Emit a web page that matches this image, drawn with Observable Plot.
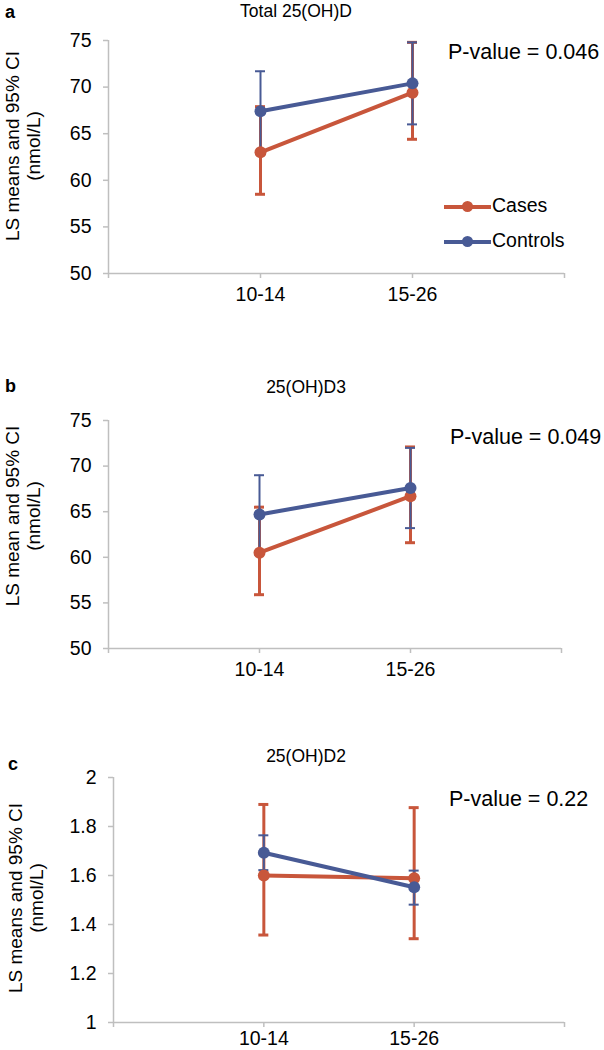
<!DOCTYPE html>
<html><head><meta charset="utf-8">
<script src="https://cdn.jsdelivr.net/npm/d3@7"></script>
<script src="https://cdn.jsdelivr.net/npm/@observablehq/plot@0.6"></script>
<style>
body{margin:0;background:#fff;font-family:"Liberation Sans",Arial,sans-serif;}
#root{position:relative;width:604px;height:1050px;overflow:hidden;background:#fff;}
.abs{position:absolute;white-space:nowrap;color:#000;}
</style></head><body><div id="root"></div>
<script>
// ---- data ----
const categories = ["10-14", "15-26"];
const axisLabels = ["", "10-14", "15-26", ""];
const series = ["Cases", "Controls"];
const colors = ["#C8563B", "#485A95"];

const panelLetters = ["a", "b", "c"];
const panelTitles = ["Total 25(OH)D", "25(OH)D3", "25(OH)D2"];
const yLabels = [["LS means and 95% CI", "(nmol/L)"], ["LS mean and 95% CI", "(nmol/L)"], ["LS means and 95% CI", "(nmol/L)"]];
const pValues = ["P-value = 0.046", "P-value = 0.049", "P-value = 0.22"];

const yTicksA = [50, 55, 60, 65, 70, 75];
const yTicksB = [50, 55, 60, 65, 70, 75];
const yTicksC = [1, 1.2, 1.4, 1.6, 1.8, 2];

// panel a: Total 25(OH)D
const aCasesMean = [63.0, 69.4];
const aCasesLow = [58.5, 64.4];
const aCasesHigh = [67.9, 74.8];
const aControlsMean = [67.4, 70.4];
const aControlsLow = [63.1, 66.0];
const aControlsHigh = [71.7, 74.8];

// panel b: 25(OH)D3
const bCasesMean = [60.5, 66.7];
const bCasesLow = [55.9, 61.6];
const bCasesHigh = [65.5, 72.1];
const bControlsMean = [64.7, 67.6];
const bControlsLow = [60.3, 63.2];
const bControlsHigh = [69.0, 72.0];

// panel c: 25(OH)D2
const cCasesMean = [1.60, 1.589];
const cCasesLow = [1.357, 1.342];
const cCasesHigh = [1.89, 1.877];
const cControlsMean = [1.693, 1.552];
const cControlsLow = [1.622, 1.481];
const cControlsHigh = [1.764, 1.62];

// ---- layout ----
const root = document.getElementById("root");
const FONT = "'Liberation Sans', Arial, sans-serif";
const AXIS = "#BFBFBF";

function addText(txt, x, baseline, size, opts = {}) {
  const d = document.createElement("div");
  d.className = "abs";
  d.textContent = txt;
  const L = 0.8 * size;
  d.style.fontSize = size + "px";
  d.style.lineHeight = L + "px";
  d.style.fontWeight = opts.bold ? "bold" : "normal";
  const off = (L - 1.117 * size) / 2 + 0.905 * size;
  d.style.top = (baseline - off) + "px";
  d.style.left = x + "px";
  if (opts.center) d.style.transform = "translateX(-50%)";
  root.appendChild(d);
  return d;
}

function addYLabel(lines, cx, cy) {
  const d = document.createElement("div");
  d.className = "abs";
  d.style.fontSize = "19px";
  d.style.lineHeight = "21px";
  d.style.textAlign = "center";
  d.style.left = cx + "px";
  d.style.top = cy + "px";
  d.style.transform = "translate(-50%,-50%) rotate(-90deg)";
  d.innerHTML = lines.map(l => `<div>${l}</div>`).join("");
  root.appendChild(d);
}

const panels = [
  {top: 0, height: 330, mt: 40, mb: 57, ml: 108, mr: 40, domain: [50, 75], ticks: yTicksA, xpad: 9,
   mean: [aCasesMean, aControlsMean], low: [aCasesLow, aControlsLow], high: [aCasesHigh, aControlsHigh],
   letter: [5, 18], title: [296, 17], p: [448, 60], ylab: [23, 146]},
  {top: 330, height: 370, mt: 90, mb: 52, ml: 108, mr: 43, domain: [50, 75], ticks: yTicksB, xpad: 9,
   mean: [bCasesMean, bControlsMean], low: [bCasesLow, bControlsLow], high: [bCasesHigh, bControlsHigh],
   letter: [5, 392], title: [306, 393], p: [450, 445], ylab: [23, 516]},
  {top: 700, height: 350, mt: 77, mb: 28, ml: 113, mr: 40, domain: [1, 2], ticks: yTicksC, xpad: 4,
   mean: [cCasesMean, cControlsMean], low: [cCasesLow, cControlsLow], high: [cCasesHigh, cControlsHigh],
   letter: [8, 770], title: [306, 762], p: [449, 807], ylab: [26, 898]}
];

panels.forEach((cfg, pi) => {
  const rows = [];
  series.forEach((s, si) => {
    categories.forEach((c, ci) => {
      rows.push({series: s, si, x: ci + 1, mean: cfg.mean[si][ci], low: cfg.low[si][ci], high: cfg.high[si][ci]});
    });
  });
  const unitPx = (604 - cfg.ml - cfg.mr) / 3;
  const cap = 5 / unitPx;
  const marks = [
    Plot.ruleY([cfg.domain[0]], {stroke: AXIS, strokeWidth: 1.5}),
    Plot.ruleX([0], {stroke: AXIS, strokeWidth: 1.5}),
    Plot.axisY({ticks: cfg.ticks, tickFormat: d => String(d), tickSize: 5, tickPadding: 12, label: null,
                stroke: AXIS, strokeWidth: 1.5, fill: "#000", fontSize: 19.5}),
    Plot.axisX({ticks: [0, 1, 2, 3], tickFormat: i => axisLabels[i], tickSize: 5, tickPadding: cfg.xpad, label: null,
                stroke: AXIS, strokeWidth: 1.5, fill: "#000", fontSize: 19.5})
  ];
  series.forEach((s, si) => {
    const d = rows.filter(r => r.si === si);
    const w = si === 0 ? 3 : 2;
    marks.push(Plot.ruleX(d, {x: "x", y1: "low", y2: "high", stroke: colors[si], strokeWidth: w}));
    marks.push(Plot.ruleY(d, {y: "low", x1: r => r.x - cap, x2: r => r.x + cap, stroke: colors[si], strokeWidth: w}));
    marks.push(Plot.ruleY(d, {y: "high", x1: r => r.x - cap, x2: r => r.x + cap, stroke: colors[si], strokeWidth: w}));
  });
  series.forEach((s, si) => {
    const d = rows.filter(r => r.si === si);
    marks.push(Plot.line(d, {x: "x", y: "mean", stroke: colors[si], strokeWidth: 4}));
  });
  series.forEach((s, si) => {
    const d = rows.filter(r => r.si === si);
    marks.push(Plot.dot(d, {x: "x", y: "mean", r: 6, fill: colors[si], stroke: "none"}));
  });
  const svg = Plot.plot({
    width: 604, height: cfg.height,
    marginTop: cfg.mt, marginBottom: cfg.mb, marginLeft: cfg.ml, marginRight: cfg.mr,
    x: {domain: [0, 3]},
    y: {domain: cfg.domain},
    style: {fontFamily: FONT, fontSize: "19.5px", color: "#000", background: "transparent", overflow: "visible"},
    marks
  });
  const wrap = document.createElement("div");
  wrap.style.position = "absolute";
  wrap.style.left = "0px";
  wrap.style.top = cfg.top + "px";
  wrap.appendChild(svg);
  root.appendChild(wrap);

  addText(panelLetters[pi], cfg.letter[0], cfg.letter[1], 18, {bold: true});
  addText(panelTitles[pi], cfg.title[0], cfg.title[1], 17.5, {center: true});
  addText(pValues[pi], cfg.p[0], cfg.p[1], 21.5);
  addYLabel(yLabels[pi], cfg.ylab[0], cfg.ylab[1]);
});

// legend (panel a)
const legendY = [206.5, 241.5];
series.forEach((s, si) => {
  const ln = document.createElement("div");
  ln.className = "abs";
  ln.style.left = "444px"; ln.style.width = "47px";
  ln.style.top = (legendY[si] - 2) + "px"; ln.style.height = "4px";
  ln.style.background = colors[si];
  root.appendChild(ln);
  const dt = document.createElement("div");
  dt.className = "abs";
  dt.style.left = (467 - 5.5) + "px"; dt.style.top = (legendY[si] - 5.5) + "px";
  dt.style.width = "11px"; dt.style.height = "11px"; dt.style.borderRadius = "50%";
  dt.style.background = colors[si];
  root.appendChild(dt);
  addText(s, 492, legendY[si] + 6.5, 19.5);
});
</script></body></html>
